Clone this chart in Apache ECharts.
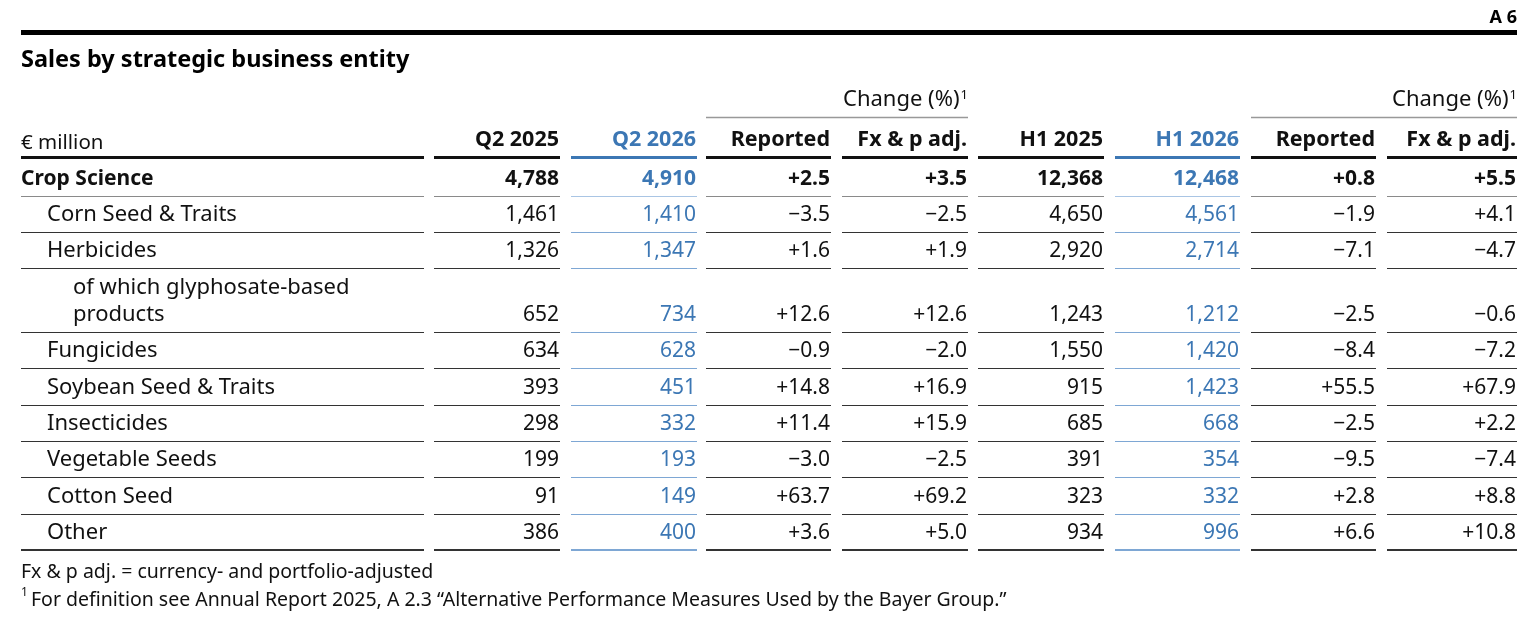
<!DOCTYPE html>
<html>
<head>
<meta charset="utf-8">
<title>Sales by strategic business entity</title>
<script src="https://cdn.jsdelivr.net/npm/echarts@6/dist/echarts.min.js"></script>
<style>
  html, body { margin: 0; padding: 0; background: #fff; }
  #chart { width: 1540px; height: 622px; }
</style>
</head>
<body>
<div id="chart"></div>
<script>
// table content
const rowLabels = [
  'Crop Science', 'Corn Seed & Traits', 'Herbicides',
  'of which glyphosate-based\nproducts', 'Fungicides', 'Soybean Seed & Traits',
  'Insecticides', 'Vegetable Seeds', 'Cotton Seed', 'Other'
];
const rowLevel = [0, 1, 1, 2, 1, 1, 1, 1, 1, 1];
const columnHeaders = ['Q2 2025', 'Q2 2026', 'Reported', 'Fx & p adj.', 'H1 2025', 'H1 2026', 'Reported', 'Fx & p adj.'];
const q2_2025 = [4788, 1461, 1326, 652, 634, 393, 298, 199, 91, 386];
const q2_2026 = [4910, 1410, 1347, 734, 628, 451, 332, 193, 149, 400];
const q2Reported = [2.5, -3.5, 1.6, 12.6, -0.9, 14.8, 11.4, -3.0, 63.7, 3.6];
const q2FxAdj = [3.5, -2.5, 1.9, 12.6, -2.0, 16.9, 15.9, -2.5, 69.2, 5.0];
const h1_2025 = [12368, 4650, 2920, 1243, 1550, 915, 685, 391, 323, 934];
const h1_2026 = [12468, 4561, 2714, 1212, 1420, 1423, 668, 354, 332, 996];
const h1Reported = [0.8, -1.9, -7.1, -2.5, -8.4, 55.5, -2.5, -9.5, 2.8, 6.6];
const h1FxAdj = [5.5, 4.1, -4.7, -0.6, -7.2, 67.9, 2.2, -7.4, 8.8, 10.8];

const columns = [q2_2025, q2_2026, q2Reported, q2FxAdj, h1_2025, h1_2026, h1Reported, h1FxAdj];
const columnKind = ['amount', 'amount', 'pct', 'pct', 'amount', 'amount', 'pct', 'pct'];
const currentColumn = [false, true, false, false, false, true, false, false];

// layout (pixels)
const FONT = '"Noto Sans", "DejaVu Sans", sans-serif';
const BLUE = '#3c77b4';
const colLeft = [434, 571, 706, 842, 978, 1115, 1251, 1387];
const colRight = [560, 697, 831, 968, 1104, 1240, 1376, 1517];
const labelLeft = 21, labelRight = 424;
const rowBottom = [196, 232, 268, 332, 368, 405, 441, 477, 514, 550];

function fmtAmount(v) {
  return v.toLocaleString('en-US');
}
function fmtPct(v) {
  return (v > 0 ? '+' : v < 0 ? '\u2212' : '') + Math.abs(v).toFixed(1);
}

const chart = echarts.init(document.getElementById('chart'), null, { renderer: 'canvas' });

function renderRow(params, api) {
  const r = api.value(0);
  const bottom = rowBottom[r];
  const textY = bottom - 17;
  const bold = r === 0;
  const children = [];
  const labelX = labelLeft + rowLevel[r] * 26;
  const lines = rowLabels[r].split('\n');
  lines.forEach(function (t, i) {
    const p = api.coord([labelX, textY - (lines.length - 1 - i) * 27]);
    children.push({
      type: 'text', x: p[0], y: p[1],
      style: { text: t, fill: '#111', font: (bold ? 'bold 21px ' : '22px ') + FONT, align: 'left', verticalAlign: 'middle' }
    });
  });
  columns.forEach(function (col, c) {
    const v = col[r];
    const p = api.coord([colRight[c] - 1, textY]);
    children.push({
      type: 'text', x: p[0], y: p[1],
      style: {
        text: columnKind[c] === 'amount' ? fmtAmount(v) : fmtPct(v),
        fill: currentColumn[c] ? BLUE : '#111',
        font: (bold ? 'bold ' : '') + '21px ' + FONT,
        align: 'right', verticalAlign: 'middle'
      }
    });
  });
  // separators under the row
  const last = r === rowLabels.length - 1;
  const lw = last ? 2 : 1;
  const segs = [[labelLeft, labelRight, false]].concat(colLeft.map(function (l, c) { return [l, colRight[c], currentColumn[c]]; }));
  segs.forEach(function (s) {
    const a = api.coord([s[0], bottom]);
    const b = api.coord([s[1], bottom]);
    let stroke = s[2] ? '#7ea7d4' : '#333';
    if (r === 0) stroke = s[2] ? '#a9c5e4' : '#8a8a8a';
    children.push({
      type: 'line',
      shape: { x1: a[0], y1: a[1] + (last ? 0 : 0.5), x2: b[0], y2: b[1] + (last ? 0 : 0.5) },
      style: { stroke: stroke, lineWidth: lw }
    });
  });
  return { type: 'group', children: children };
}

// static header graphics
const graphics = [
  { type: 'text', right: 23, top: 9, style: { text: 'A 6', font: 'bold 18px ' + FONT, fill: '#000' } },
  { type: 'rect', shape: { x: 21, y: 30, width: 1496, height: 5 }, style: { fill: '#000' } },
  { type: 'text', x: 21, y: 60, style: { text: 'Sales by strategic business entity', font: 'bold 23.5px ' + FONT, fill: '#000', verticalAlign: 'middle' } },
  { type: 'text', x: 21, y: 143, style: { text: '\u20ac million', font: '20.5px ' + FONT, fill: '#111', verticalAlign: 'middle' } },
  { type: 'rect', shape: { x: labelLeft, y: 156, width: labelRight - labelLeft, height: 3 }, style: { fill: '#111' } }
];
[[706, 968], [1251, 1517]].forEach(function (g) {
  graphics.push({
    type: 'text', x: g[1], y: 100,
    style: {
      text: '{a|Change (%)}{s|1}', align: 'right', verticalAlign: 'middle',
      rich: {
        a: { font: '22px ' + FONT, fill: '#111' },
        s: { font: '13px ' + FONT, fill: '#111', verticalAlign: 'top', padding: [0, 0, 10, 1] }
      }
    }
  });
  graphics.push({ type: 'line', shape: { x1: g[0], y1: 117.5, x2: g[1], y2: 117.5 }, style: { stroke: '#999', lineWidth: 1.5 } });
});
columnHeaders.forEach(function (h, c) {
  graphics.push({
    type: 'text', x: colRight[c] - 1, y: 140,
    style: { text: h, font: 'bold 21.5px ' + FONT, fill: currentColumn[c] ? BLUE : '#111', align: 'right', verticalAlign: 'middle' }
  });
  graphics.push({
    type: 'rect', shape: { x: colLeft[c], y: 156, width: colRight[c] - colLeft[c], height: 3 },
    style: { fill: currentColumn[c] ? BLUE : '#111' }
  });
});
graphics.push(
  { type: 'text', x: 21, y: 572, style: { text: 'Fx & p adj. = currency- and portfolio-adjusted', font: '19.5px ' + FONT, fill: '#111', verticalAlign: 'middle' } },
  { type: 'text', x: 21, y: 593, style: { text: '1', font: '12px ' + FONT, fill: '#111', verticalAlign: 'middle' } },
  { type: 'text', x: 31, y: 600, style: { text: 'For definition see Annual Report 2025, A 2.3 \u201cAlternative Performance Measures Used by the Bayer Group.\u201d', font: '19.5px ' + FONT, fill: '#111', verticalAlign: 'middle' } }
);

chart.setOption({
  backgroundColor: '#fff',
  animation: false,
  grid: { left: 0, right: 0, top: 0, bottom: 0 },
  xAxis: { type: 'value', min: 0, max: 1540, show: false },
  yAxis: { type: 'value', min: 0, max: 622, inverse: true, show: false },
  graphic: graphics,
  series: [{
    type: 'custom',
    renderItem: renderRow,
    data: rowLabels.map(function (_, i) { return [i]; }),
    encode: { x: -1, y: -1 },
    silent: true
  }]
});
</script>
</body>
</html>
